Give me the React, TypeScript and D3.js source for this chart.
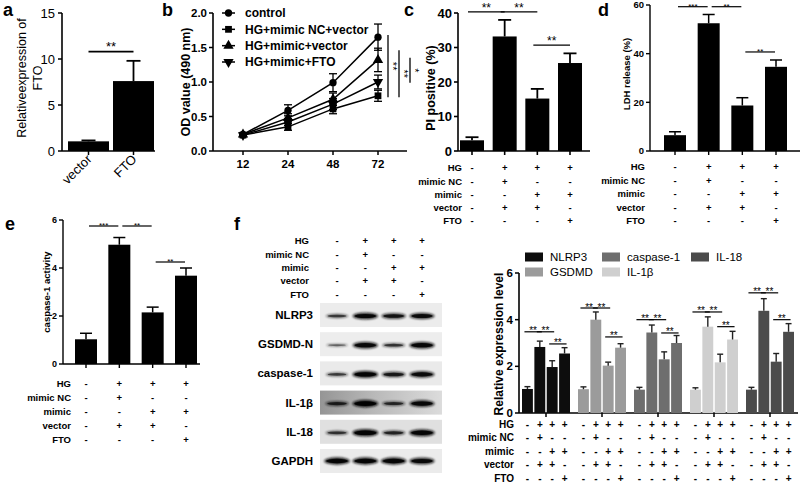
import React from 'react';
import * as d3 from 'd3';

const FONT = "'Liberation Sans', Arial, Helvetica, sans-serif";

// ---------------- Panel a ----------------
const aCategories = ['vector', 'FTO'];
const aValues = [1.05, 7.6];
const aErrors = [0.1, 2.2];
const aTicks = [0, 5, 10, 15];

// ---------------- Panel b ----------------
const bTimes = ['12', '24', '48', '72'];
const bSeriesNames = ['control', 'HG+mimic NC+vector', 'HG+mimic+vector', 'HG+mimic+FTO'];
const bSymbols = ['circle', 'square', 'triangle', 'triangleDown'];
const bControl = [0.24, 0.59, 0.99, 1.65];
const bControlErr = [0.02, 0.08, 0.13, 0.19];
const bMimicNC = [0.23, 0.35, 0.61, 0.8];
const bMimicNCErr = [0.02, 0.05, 0.07, 0.08];
const bMimicVector = [0.24, 0.48, 0.75, 1.32];
const bMimicVectorErr = [0.02, 0.06, 0.09, 0.17];
const bMimicFTO = [0.23, 0.42, 0.68, 1.0];
const bMimicFTOErr = [0.02, 0.05, 0.08, 0.1];
const bTicks = [0, 0.5, 1.0, 1.5, 2.0];
const bSigTop = [1.68, 1.46, 1.35];
const bSigBottom = [0.78, 0.78, 0.99];
const bSigLabel = ['**', '**', '*'];

// ---------------- shared treatment table ----------------
const tableLabels = ['HG', 'mimic NC', 'mimic', 'vector', 'FTO'];
const tableSigns = [
  ['-', '+', '+', '+'],
  ['-', '+', '-', '-'],
  ['-', '-', '+', '+'],
  ['-', '+', '+', '-'],
  ['-', '-', '-', '+'],
];

// ---------------- Panel c ----------------
const cValues = [3.1, 33.2, 15.2, 25.5];
const cErrors = [0.9, 4.8, 2.8, 2.8];
const cTicks = [0, 10, 20, 30, 40];
const cSigFrom = [0, 1, 2];
const cSigTo = [1, 2, 3];
const cSigLevel = [40.3, 40.3, 30.7];
const cSigLabel = ['**', '**', '**'];

// ---------------- Panel d ----------------
const dValues = [6.5, 52.5, 18.7, 34.6];
const dErrors = [1.4, 3.6, 3.2, 2.8];
const dTicks = [0, 20, 40, 60];
const dSigFrom = [0, 1, 2];
const dSigTo = [1, 2, 3];
const dSigLevel = [59.3, 59.3, 40.7];
const dSigLabel = ['***', '**', '**'];

// ---------------- Panel e ----------------
const eValues = [1.03, 4.97, 2.15, 3.68];
const eErrors = [0.25, 0.3, 0.22, 0.32];
const eTicks = [0, 2, 4, 6];
const eSigFrom = [0, 1, 2];
const eSigTo = [1, 2, 3];
const eSigLevel = [5.75, 5.75, 4.25];
const eSigLabel = ['***', '**', '**'];

// ---------------- Panel f : western blot ----------------
const blotNames = ['NLRP3', 'GSDMD-N', 'caspase-1', 'IL-1β', 'IL-18', 'GAPDH'];
const blotNLRP3 = [0.45, 0.9, 0.75, 0.85];
const blotGSDMD = [0.25, 0.9, 0.5, 0.92];
const blotCasp = [0.45, 0.95, 0.7, 0.85];
const blotIL1b = [0.6, 1.0, 0.55, 0.9];
const blotIL18 = [0.5, 1.0, 0.6, 0.95];
const blotGAPDH = [0.95, 0.95, 0.95, 0.9];
const blotRows = [blotNLRP3, blotGSDMD, blotCasp, blotIL1b, blotIL18, blotGAPDH];

// ---------------- Panel f : bar chart ----------------
const fGenes = ['NLRP3', 'GSDMD', 'caspase-1', 'IL-1β', 'IL-18'];
const fColors = ['#0d0d0d', '#9b9b9b', '#6e6e6e', '#cfcfcf', '#4b4b4b'];
const fNLRP3 = [1.03, 2.83, 1.97, 2.55];
const fNLRP3Err = [0.1, 0.25, 0.27, 0.25];
const fGSDMD = [1.02, 4.0, 2.03, 2.8];
const fGSDMDErr = [0.1, 0.33, 0.15, 0.17];
const fCasp = [1.0, 3.45, 2.3, 3.0];
const fCaspErr = [0.1, 0.32, 0.32, 0.32];
const fIL1b = [1.0, 3.7, 2.17, 3.15];
const fIL1bErr = [0.08, 0.42, 0.35, 0.35];
const fIL18 = [1.0, 4.38, 2.2, 3.48];
const fIL18Err = [0.1, 0.52, 0.35, 0.35];
const fValues = [fNLRP3, fGSDMD, fCasp, fIL1b, fIL18];
const fErrors = [fNLRP3Err, fGSDMDErr, fCaspErr, fIL1bErr, fIL18Err];
const fSigHigh = [3.48, 4.5, 4.0, 4.33, 5.15];
const fSigLow = [2.96, 3.26, 3.43, 3.7, 4.0];
const fTicks = [0, 2, 4, 6];

// ------------------------------------------------------------

function Letter({ x, y, t }: { x: number; y: number; t: string }) {
  return (
    <text x={x} y={y} fontSize={18} fontWeight="bold">
      {t}
    </text>
  );
}

function Table({ xs, y0, step, labelX, font }: { xs: number[]; y0: number; step: number; labelX: number; font: number }) {
  return (
    <g fontWeight="bold" fontSize={font} fill="#000">
      {tableLabels.map((lab, r) => (
        <g key={lab}>
          <text x={labelX} y={y0 + r * step + font * 0.36} textAnchor="end">
            {lab}
          </text>
          {xs.map((xx, i) => (
            <text key={i} x={xx} y={y0 + r * step + font * 0.36} textAnchor="middle">
              {tableSigns[r][i % 4]}
            </text>
          ))}
        </g>
      ))}
    </g>
  );
}

function PanelA() {
  const y = d3.scaleLinear().domain([0, 15]).range([151, 13]);
  const x = d3.scalePoint<string>().domain(aCategories).range([88.5, 133.5]);
  const bw = 41;
  return (
    <g>
      <Letter x={3} y={16} t="a" />
      <line x1={62} x2={62} y1={y(0)} y2={y(15)} stroke="#000" strokeWidth={1.6} />
      <line x1={62} x2={155} y1={y(0)} y2={y(0)} stroke="#000" strokeWidth={1.6} />
      {aTicks.map((t) => (
        <g key={t}>
          <line x1={58} x2={62} y1={y(t)} y2={y(t)} stroke="#000" strokeWidth={1.5} />
          <text x={55} y={y(t) + 4.5} fontSize={13} textAnchor="end">
            {t}
          </text>
        </g>
      ))}
      {aCategories.map((c, i) => (
        <g key={c}>
          <rect x={x(c)! - bw / 2} y={y(aValues[i])} width={bw} height={y(0) - y(aValues[i])} fill="#000" />
          <line x1={x(c)!} x2={x(c)!} y1={y(aValues[i])} y2={y(aValues[i] + aErrors[i])} stroke="#000" strokeWidth={1.8} />
          <line x1={x(c)! - 7} x2={x(c)! + 7} y1={y(aValues[i] + aErrors[i])} y2={y(aValues[i] + aErrors[i])} stroke="#000" strokeWidth={1.8} />
          <line x1={x(c)!} x2={x(c)!} y1={y(0)} y2={y(0) + 4} stroke="#000" strokeWidth={1.5} />
          <text transform={`translate(${x(c)! + 4},${y(0) + 9}) rotate(-45)`} fontSize={13} textAnchor="end">
            {c}
          </text>
        </g>
      ))}
      <line x1={x('vector')!} x2={x('FTO')!} y1={y(10.8)} y2={y(10.8)} stroke="#000" strokeWidth={1.6} />
      <text x={(x('vector')! + x('FTO')!) / 2} y={y(10.8) - 1} fontSize={13} textAnchor="middle">
        **
      </text>
      <text transform={`translate(26,78) rotate(-90)`} fontSize={12.5} textAnchor="middle">
        Relativeexpression of
      </text>
      <text transform={`translate(42,78) rotate(-90)`} fontSize={12.5} textAnchor="middle">
        FTO
      </text>
    </g>
  );
}

function symbolPath(kind: string, size: number) {
  if (kind === 'circle') return d3.symbol().type(d3.symbolCircle).size(size)()!;
  if (kind === 'square') return d3.symbol().type(d3.symbolSquare).size(size)()!;
  return d3.symbol().type(d3.symbolTriangle).size(size)()!;
}

function Marker({ kind, x, y }: { kind: string; x: number; y: number }) {
  const rot = kind === 'triangleDown' ? 180 : 0;
  return <path d={symbolPath(kind, kind === 'circle' ? 42 : 46)} transform={`translate(${x},${y}) rotate(${rot})`} fill="#000" />;
}

function PanelB() {
  const y = d3.scaleLinear().domain([0, 2]).range([151, 13]);
  const x = d3.scalePoint<string>().domain(bTimes).range([243, 378]);
  const series = [bControl, bMimicNC, bMimicVector, bMimicFTO];
  const errs = [bControlErr, bMimicNCErr, bMimicVectorErr, bMimicFTOErr];
  const line = d3
    .line<number>()
    .x((_, i) => x(bTimes[i])!)
    .y((d) => y(d));
  const fmt = d3.format('.1f');
  const legendY = d3.scalePoint<string>().domain(bSeriesNames).range([13, 62]);
  const lastX = x('72')!;
  return (
    <g>
      <Letter x={162} y={16} t="b" />
      <line x1={213} x2={213} y1={y(0)} y2={y(2)} stroke="#000" strokeWidth={1.6} />
      <line x1={213} x2={407} y1={y(0)} y2={y(0)} stroke="#000" strokeWidth={1.6} />
      {bTicks.map((t) => (
        <g key={t}>
          <line x1={209} x2={213} y1={y(t)} y2={y(t)} stroke="#000" strokeWidth={1.5} />
          <text x={207} y={y(t) + 4} fontSize={11.5} fontWeight="bold" textAnchor="end">
            {fmt(t)}
          </text>
        </g>
      ))}
      {bTimes.map((t) => (
        <g key={t}>
          <line x1={x(t)!} x2={x(t)!} y1={y(0)} y2={y(0) + 4} stroke="#000" strokeWidth={1.5} />
          <text x={x(t)!} y={y(0) + 17} fontSize={11.5} fontWeight="bold" textAnchor="middle">
            {t}
          </text>
        </g>
      ))}
      <text transform={`translate(190,82) rotate(-90)`} fontSize={12.5} fontWeight="bold" textAnchor="middle">
        OD value (490 nm)
      </text>
      {series.map((s, si) => (
        <g key={si}>
          <path d={line(s)!} fill="none" stroke="#000" strokeWidth={1.5} />
          {s.map((v, i) => {
            const xx = x(bTimes[i])!;
            return (
              <g key={i}>
                <line x1={xx} x2={xx} y1={y(v - errs[si][i])} y2={y(v + errs[si][i])} stroke="#000" strokeWidth={1.3} />
                <line x1={xx - 4} x2={xx + 4} y1={y(v + errs[si][i])} y2={y(v + errs[si][i])} stroke="#000" strokeWidth={1.3} />
                <line x1={xx - 4} x2={xx + 4} y1={y(v - errs[si][i])} y2={y(v - errs[si][i])} stroke="#000" strokeWidth={1.3} />
                <Marker kind={bSymbols[si]} x={xx} y={y(v)} />
              </g>
            );
          })}
        </g>
      ))}
      {bSeriesNames.map((n, i) => (
        <g key={n}>
          <line x1={222} x2={235} y1={legendY(n)!} y2={legendY(n)!} stroke="#000" strokeWidth={1.5} />
          <Marker kind={bSymbols[i]} x={228.5} y={legendY(n)!} />
          <text x={245} y={legendY(n)! + 4.2} fontSize={12} fontWeight="bold">
            {n}
          </text>
        </g>
      ))}
      {bSigTop.map((t, i) => {
        const lx = lastX + 10 + i * 11;
        return (
          <g key={i}>
            <line x1={lx} x2={lx} y1={y(t)} y2={y(bSigBottom[i])} stroke="#000" strokeWidth={1.3} />
            <text transform={`translate(${lx + 1},${(y(t) + y(bSigBottom[i])) / 2}) rotate(90)`} fontSize={11} textAnchor="middle">
              {bSigLabel[i]}
            </text>
          </g>
        );
      })}
    </g>
  );
}

type BarProps = {
  letter: string;
  letterX: number;
  letterY: number;
  axisX: number;
  axisEnd: number;
  yRange: [number, number];
  ticks: number[];
  tickFont: number;
  centers: [number, number];
  bw: number;
  values: number[];
  errors: number[];
  sigFrom: number[];
  sigTo: number[];
  sigLevel: number[];
  sigLabel: string[];
  sigFont: number;
  sigDy: number;
  sigPadL: number;
  sigPadR: number;
  title: string;
  titleX: number;
  titleY: number;
  titleFont: number;
  tableY0: number;
  tableStep: number;
  tableLabelX: number;
  tableFont: number;
  capW: number;
  ew: number;
  axisW: number;
};

function BarPanel(p: BarProps) {
  const max = p.ticks[p.ticks.length - 1];
  const y = d3.scaleLinear().domain([0, max]).range(p.yRange);
  const x = d3.scalePoint<number>().domain(d3.range(p.values.length)).range(p.centers);
  return (
    <g>
      <Letter x={p.letterX} y={p.letterY} t={p.letter} />
      <line x1={p.axisX} x2={p.axisX} y1={y(0)} y2={y(max)} stroke="#000" strokeWidth={p.axisW} />
      <line x1={p.axisX} x2={p.axisEnd} y1={y(0)} y2={y(0)} stroke="#000" strokeWidth={p.axisW} />
      {p.ticks.map((t) => (
        <g key={t}>
          <line x1={p.axisX - 4} x2={p.axisX} y1={y(t)} y2={y(t)} stroke="#000" strokeWidth={p.axisW} />
          <text x={p.axisX - 6} y={y(t) + p.tickFont * 0.36} fontSize={p.tickFont} fontWeight="bold" textAnchor="end">
            {t}
          </text>
        </g>
      ))}
      {p.values.map((v, i) => (
        <g key={i}>
          <rect x={x(i)! - p.bw / 2} y={y(v)} width={p.bw} height={y(0) - y(v)} fill="#000" />
          <line x1={x(i)!} x2={x(i)!} y1={y(v)} y2={y(v + p.errors[i])} stroke="#000" strokeWidth={p.ew} />
          <line x1={x(i)! - p.capW / 2} x2={x(i)! + p.capW / 2} y1={y(v + p.errors[i])} y2={y(v + p.errors[i])} stroke="#000" strokeWidth={p.ew} />
          <line x1={x(i)!} x2={x(i)!} y1={y(0)} y2={y(0) + 4} stroke="#000" strokeWidth={p.axisW} />
        </g>
      ))}
      {p.sigFrom.map((f, k) => {
        const x1 = x(f)! + p.sigPadL;
        const x2 = x(p.sigTo[k])! + p.sigPadR;
        return (
          <g key={k}>
            <line x1={x1} x2={x2} y1={y(p.sigLevel[k])} y2={y(p.sigLevel[k])} stroke="#000" strokeWidth={1.2} />
            <text x={(x1 + x2) / 2} y={y(p.sigLevel[k]) + p.sigDy} fontSize={p.sigFont} textAnchor="middle">
              {p.sigLabel[k]}
            </text>
          </g>
        );
      })}
      <text transform={`translate(${p.titleX},${p.titleY}) rotate(-90)`} fontSize={p.titleFont} fontWeight="bold" textAnchor="middle">
        {p.title}
      </text>
      <Table xs={p.values.map((_, i) => x(i)!)} y0={p.tableY0} step={p.tableStep} labelX={p.tableLabelX} font={p.tableFont} />
    </g>
  );
}

function PanelBlot() {
  const lane = d3.scalePoint<number>().domain([0, 1, 2, 3]).range([337, 422]);
  const rowY = d3.scalePoint<string>().domain(blotNames).range([315, 461]);
  const boxH = 24;
  const bgFill = ['#ececec', '#ededed', '#eaeaea', 'url(#il1bGrad)', '#e0e0e0', '#ebebeb'];
  return (
    <g>
      <defs>
        <filter id="bandBlur" x="-30%" y="-100%" width="160%" height="300%">
          <feGaussianBlur stdDeviation="1.3" />
        </filter>
        <filter id="coreBlur" x="-30%" y="-100%" width="160%" height="300%">
          <feGaussianBlur stdDeviation="0.6" />
        </filter>
        <linearGradient id="il1bGrad" x1="0" x2="1" y1="0" y2="0">
          <stop offset="0" stopColor="#959595" />
          <stop offset="0.45" stopColor="#b9b9b9" />
          <stop offset="1" stopColor="#dcdcdc" />
        </linearGradient>
      </defs>
      <Letter x={234} y={230} t="f" />
      <Table xs={[0, 1, 2, 3].map((i) => lane(i)!)} y0={241} step={13.3} labelX={309} font={9.5} />
      {blotNames.map((n, r) => {
        const cy = rowY(n)!;
        return (
          <g key={n}>
            <rect x={320} y={cy - boxH / 2} width={122} height={boxH} fill={bgFill[r]} />
            <text x={313} y={cy + 4} fontSize={11.5} fontWeight="bold" textAnchor="end">
              {n}
            </text>
            {blotRows[r].map((v, i) => (
              <g key={i}>
                <ellipse
                  cx={lane(i)!}
                  cy={cy + (r === 5 ? 0 : 1)}
                  rx={10 + 3 * v}
                  ry={0.8 + 3 * v}
                  fill="#111"
                  opacity={0.3 + 0.6 * v}
                  filter="url(#bandBlur)"
                />
                <ellipse
                  cx={lane(i)!}
                  cy={cy + (r === 5 ? 0 : 1)}
                  rx={8 + 3 * v}
                  ry={0.5 + 1.8 * v}
                  fill="#000"
                  opacity={0.2 + 0.7 * v}
                  filter="url(#coreBlur)"
                />
              </g>
            ))}
          </g>
        );
      })}
    </g>
  );
}

function PanelF() {
  const y = d3.scaleLinear().domain([0, 6]).range([413, 273]);
  const gx = d3.scalePoint<string>().domain(fGenes).range([546, 770]);
  const bx = d3.scaleBand<number>().domain([0, 1, 2, 3]).range([-24, 24]).paddingInner(0.12);
  const bw = bx.bandwidth();
  const cx = (g: string, i: number) => gx(g)! + bx(i)! + bw / 2;
  const legendColX = [525, 602, 691];
  const legendRowY = [257, 272];
  const allXs: number[] = [];
  fGenes.forEach((g) => [0, 1, 2, 3].forEach((i) => allXs.push(cx(g, i))));
  return (
    <g>
      <line x1={519} x2={519} y1={y(0)} y2={y(6)} stroke="#000" strokeWidth={1.6} />
      <line x1={519} x2={798} y1={y(0)} y2={y(0)} stroke="#000" strokeWidth={1.6} />
      {fTicks.map((t) => (
        <g key={t}>
          <line x1={515} x2={519} y1={y(t)} y2={y(t)} stroke="#000" strokeWidth={1.5} />
          <text x={513} y={y(t) + 4} fontSize={11.5} fontWeight="bold" textAnchor="end">
            {t}
          </text>
        </g>
      ))}
      <text transform={`translate(503,344) rotate(-90)`} fontSize={12} fontWeight="bold" textAnchor="middle">
        Relative expression level
      </text>
      {fGenes.map((g, gi) => (
        <g key={g}>
          <line x1={gx(g)!} x2={gx(g)!} y1={y(0)} y2={y(0) + 4} stroke="#000" strokeWidth={1.5} />
          {fValues[gi].map((v, i) => {
            const xx = cx(g, i);
            const top = v + fErrors[gi][i];
            return (
              <g key={i}>
                <rect x={xx - bw / 2} y={y(v)} width={bw} height={y(0) - y(v)} fill={fColors[gi]} />
                <line x1={xx} x2={xx} y1={y(v)} y2={y(top)} stroke="#222" strokeWidth={1.4} />
                <line x1={xx - 3} x2={xx + 3} y1={y(top)} y2={y(top)} stroke="#222" strokeWidth={1.4} />
              </g>
            );
          })}
          {[
            [0, 1, fSigHigh[gi]],
            [1, 2, fSigHigh[gi]],
            [2, 3, fSigLow[gi]],
          ].map(([a, b, lv], k) => {
            const x1 = cx(g, a) - 3;
            const x2 = cx(g, b) + 2;
            return (
              <g key={k}>
                <line x1={x1} x2={x2} y1={y(lv)} y2={y(lv)} stroke="#000" strokeWidth={1.2} />
                <text x={(x1 + x2) / 2} y={y(lv) + 2.5} fontSize={10} textAnchor="middle">
                  **
                </text>
              </g>
            );
          })}
          <rect x={legendColX[Math.floor(gi / 2)]} y={legendRowY[gi % 2] - 4.5} width={18} height={9} fill={fColors[gi]} />
          <text x={legendColX[Math.floor(gi / 2)] + 25} y={legendRowY[gi % 2] + 4} fontSize={11.5}>
            {g}
          </text>
        </g>
      ))}
      <Table xs={allXs} y0={424} step={13.6} labelX={514} font={10} />
    </g>
  );
}

export default function App() {
  return (
    <svg
      width={800}
      height={484}
      viewBox="0 0 800 484"
      style={{ position: 'absolute', left: 0, top: 0, background: '#fff' }}
      fontFamily={FONT}
    >
      <rect width={800} height={484} fill="#fff" />
      <PanelA />
      <PanelB />
      <BarPanel
        letter="c"
        letterX={404}
        letterY={16}
        axisX={458}
        axisEnd={590}
        yRange={[151, 13]}
        ticks={cTicks}
        tickFont={13}
        centers={[472, 570]}
        bw={24}
        values={cValues}
        errors={cErrors}
        sigFrom={cSigFrom}
        sigTo={cSigTo}
        sigLevel={cSigLevel}
        sigLabel={cSigLabel}
        sigFont={12}
        sigDy={0}
        sigPadL={-4}
        sigPadR={0}
        title="PI positive (%)"
        titleX={435}
        titleY={88}
        titleFont={12.5}
        tableY0={168}
        tableStep={13.2}
        tableLabelX={462}
        tableFont={9.5}
        capW={13}
        ew={1.8}
        axisW={1.6}
      />
      <BarPanel
        letter="d"
        letterX={598}
        letterY={16}
        axisX={650}
        axisEnd={800}
        yRange={[151, 5]}
        ticks={dTicks}
        tickFont={9.5}
        centers={[675, 776]}
        bw={22}
        values={dValues}
        errors={dErrors}
        sigFrom={dSigFrom}
        sigTo={dSigTo}
        sigLevel={dSigLevel}
        sigLabel={dSigLabel}
        sigFont={8}
        sigDy={2}
        sigPadL={3}
        sigPadR={-1}
        title="LDH release (%)"
        titleX={630}
        titleY={74}
        titleFont={9.5}
        tableY0={167}
        tableStep={13.4}
        tableLabelX={645}
        tableFont={9.5}
        capW={12}
        ew={1.5}
        axisW={1.4}
      />
      <BarPanel
        letter="e"
        letterX={5}
        letterY={230}
        axisX={63}
        axisEnd={200}
        yRange={[364, 220]}
        ticks={eTicks}
        tickFont={9}
        centers={[86, 186]}
        bw={22}
        values={eValues}
        errors={eErrors}
        sigFrom={eSigFrom}
        sigTo={eSigTo}
        sigLevel={eSigLevel}
        sigLabel={eSigLabel}
        sigFont={8}
        sigDy={2}
        sigPadL={3}
        sigPadR={-1}
        title="caspase-1 activity"
        titleX={50}
        titleY={292}
        titleFont={9.5}
        tableY0={384}
        tableStep={14}
        tableLabelX={71}
        tableFont={9.5}
        capW={12}
        ew={1.5}
        axisW={1.4}
      />
      <PanelBlot />
      <PanelF />
    </svg>
  );
}
